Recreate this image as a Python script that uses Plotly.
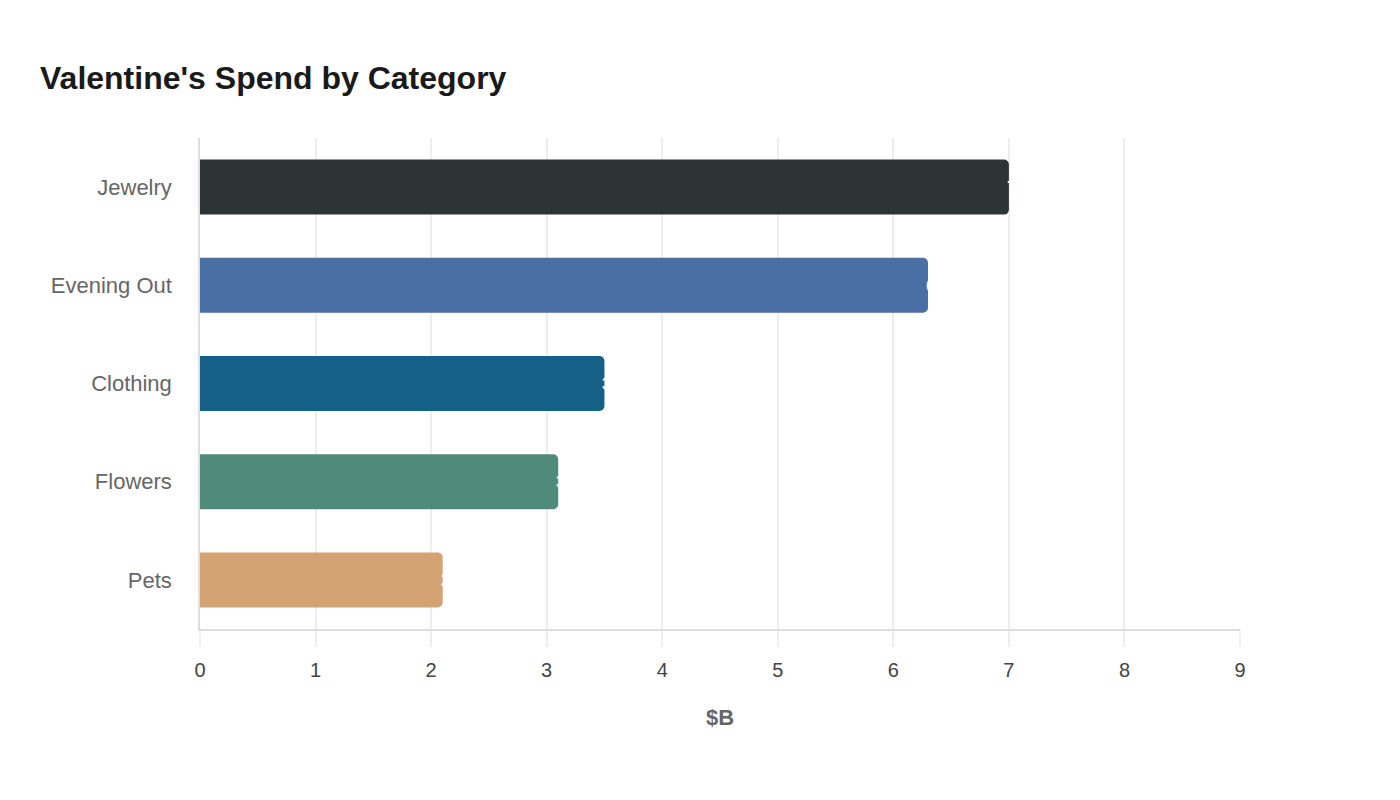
import plotly.graph_objects as go

categories = ["Jewelry", "Evening Out", "Clothing", "Flowers", "Pets"]
values = [7.0, 6.3, 3.5, 3.1, 2.1]
colors = ["#2d3436", "#4a6fa5", "#166088", "#4f8a7a", "#d4a373"]
x_ticks = [0, 1, 2, 3, 4, 5, 6, 7, 8, 9]
labels = [f"{v:.1f}" for v in values]

fig = go.Figure(go.Bar(
    x=values,
    y=categories,
    orientation="h",
    marker=dict(color=colors, cornerradius=5, line=dict(width=0)),
    width=0.56,
    hoverinfo="x+y",
))

for cat, v, lab in zip(categories, values, labels):
    fig.add_annotation(
        x=v, y=cat, xref="x", yref="y",
        text=f"<b>{lab}</b>", showarrow=False,
        xanchor="left", yanchor="middle", xshift=-4,
        font=dict(size=19, color="#ffffff"),
    )

fig.update_layout(
    width=1400,
    height=800,
    paper_bgcolor="#ffffff",
    plot_bgcolor="#ffffff",
    margin=dict(l=192, r=168, t=130, b=179),
    font=dict(family="Liberation Sans, Arial, sans-serif"),
    title=dict(
        text="<b>Valentine's Spend by Category</b>",
        x=32 / 1400, xanchor="left", xref="container",
        y=1 - 70 / 800, yanchor="middle", yref="container",
        font=dict(size=32, color="#1a1a1a"),
    ),
    showlegend=False,
    xaxis=dict(
        range=[0, 9],
        tickvals=x_ticks,
        showgrid=True,
        gridcolor="#eeeeee",
        gridwidth=1.5,
        ticks="outside",
        ticklen=16,
        tickcolor="#eeeeee",
        tickwidth=1.5,
        ticklabelstandoff=6,
        showline=True,
        linecolor="#dddddd",
        linewidth=1.5,
        zeroline=False,
        tickfont=dict(size=20, color="#444444"),
        title=dict(text="<b>$B</b>", font=dict(size=22, color="#666666"), standoff=30),
    ),
    yaxis=dict(
        autorange="reversed",
        showline=True,
        linecolor="#dddddd",
        linewidth=1.5,
        showgrid=False,
        ticks="",
        ticklabelstandoff=22,
        tickfont=dict(size=22, color="#666666"),
    ),
)

fig.write_html("out.html")
